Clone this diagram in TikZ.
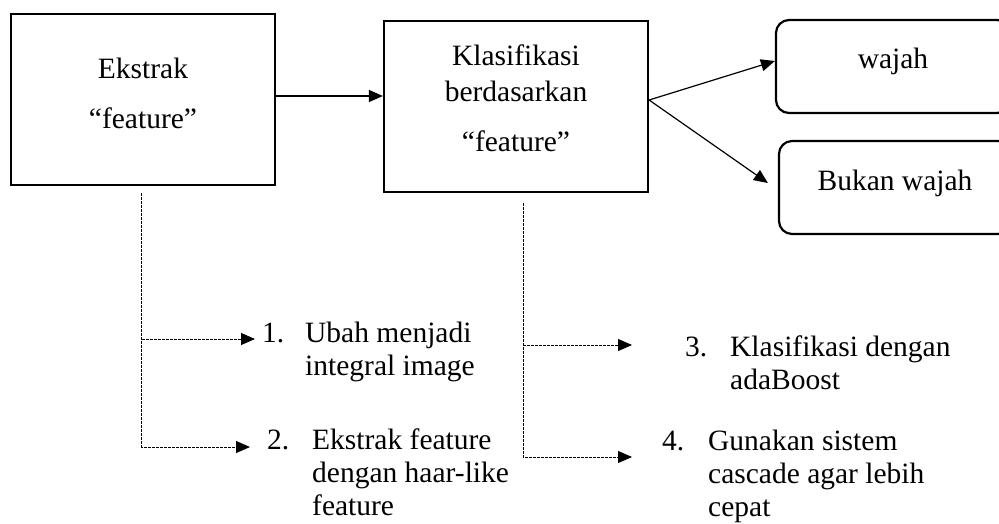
\documentclass[tikz,border=0pt]{standalone}
\usepackage{fontspec}
\setmainfont{Liberation Serif}
\usetikzlibrary{arrows.meta}
\begin{document}
\begin{tikzpicture}[x=1pt,y=-1pt,
  box/.style={draw, line width=2.2pt, inner sep=0pt},
  rbox/.style={box, rounded corners=13pt},
  lbl/.style={inner sep=0pt, anchor=base, font=\fontsize{29.5}{33}\selectfont},
  item/.style={inner sep=0pt, anchor=base west, font=\fontsize{29.5}{33}\selectfont},
  tip/.style={-{Triangle[length=14pt,width=12pt]}},
  arr/.style={line width=1.2pt, tip},
  dline/.style={line width=1pt, dash pattern=on 3pt off 1pt},
  darr/.style={dline, tip}]
\clip (0,0) rectangle (999,523);
\useasboundingbox (0,0) rectangle (999,523);
% boxes
\node[box, minimum width=264pt, minimum height=171pt] (box1) at (143,99.5) {};
\node[box, minimum width=264pt, minimum height=171pt] (box2) at (516,106.5) {};
\node[rbox, minimum width=234pt, minimum height=93pt] (wajah) at (893,66.5) {};
\node[rbox, minimum width=232pt, minimum height=93pt] (bukan) at (895,187.5) {};
% box texts
\node[lbl] (t1a) at (143,78) {Ekstrak};
\node[lbl] (t1b) at (143,128) {“feature”};
\node[lbl] (t2a) at (516,65.7) {Klasifikasi};
\node[lbl] (t2b) at (516,101.7) {berdasarkan};
\node[lbl] (t2c) at (516,151.7) {“feature”};
\node[lbl] (t3) at (893,68) {wajah};
\node[lbl] (t4) at (895,190) {Bukan wajah};
% items
\node[item] (i1) at (262,342) {\begin{tabular}[t]{@{}l@{}l@{}}\makebox[43pt][l]{1.} & Ubah menjadi\\ & integral image\end{tabular}};
\node[item] (i2) at (267,449) {\begin{tabular}[t]{@{}l@{}l@{}}\makebox[45pt][l]{2.} & Ekstrak feature\\ & dengan haar-like\\ & feature\end{tabular}};
\node[item] (i3) at (685,356) {\begin{tabular}[t]{@{}l@{}l@{}}\makebox[45pt][l]{3.} & Klasifikasi dengan\\ & adaBoost\end{tabular}};
\node[item] (i4) at (662,450) {\begin{tabular}[t]{@{}l@{}l@{}}\makebox[46pt][l]{4.} & Gunakan sistem\\ & cascade agar lebih\\ & cepat\end{tabular}};
% solid connectors
\draw[arr] ([yshift=3.5pt]box1.east) -- ([yshift=3.5pt]box1.east -| box2.west);
\draw[arr] ([yshift=6.5pt]box2.east) -- ([yshift=5.5pt]wajah.west);
\draw[arr] ([yshift=6.5pt]box2.east) -- ([xshift=-10pt,yshift=4.5pt]bukan.west);
% dashed connectors
\coordinate (v1) at ([xshift=-1.3pt,yshift=-7pt]box1.south);
\coordinate (e1) at (255,339);
\coordinate (e2) at (250,447);
\coordinate (v2) at ([xshift=7pt,yshift=-10pt]box2.south);
\coordinate (e3) at (632,345);
\coordinate (e4) at (632,457);
\draw[darr] (v1) |- (e2);
\draw[darr] (v1 |- e1) -- (e1);
\draw[darr] (v2) |- (e4);
\draw[darr] (v2 |- e3) -- (e3);
\end{tikzpicture}
\end{document}
